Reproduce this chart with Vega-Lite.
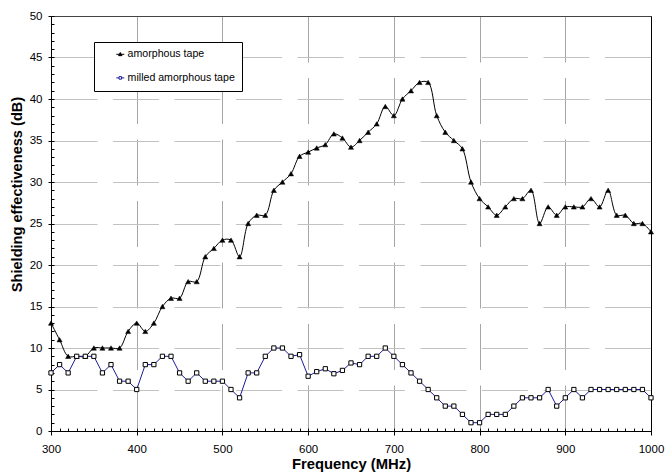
{
  "$schema": "https://vega.github.io/schema/vega-lite/v6.json",
  "width": 600,
  "height": 415,
  "autosize": "none",
  "padding": {"left": 51, "top": 16, "right": 15, "bottom": 42},
  "background": "white",
  "config": {
    "view": {"stroke": "black", "strokeWidth": 1},
    "font": "Liberation Sans"
  },
  "data": {"values": [
    {"freq":300,"db":13,"series":"amorphous tape"},{"freq":310,"db":11,"series":"amorphous tape"},{"freq":320,"db":9,"series":"amorphous tape"},{"freq":330,"db":9,"series":"amorphous tape"},{"freq":340,"db":9,"series":"amorphous tape"},{"freq":350,"db":10,"series":"amorphous tape"},{"freq":360,"db":10,"series":"amorphous tape"},{"freq":370,"db":10,"series":"amorphous tape"},{"freq":380,"db":10,"series":"amorphous tape"},{"freq":390,"db":12,"series":"amorphous tape"},{"freq":400,"db":13,"series":"amorphous tape"},{"freq":410,"db":12,"series":"amorphous tape"},{"freq":420,"db":13,"series":"amorphous tape"},{"freq":430,"db":15,"series":"amorphous tape"},{"freq":440,"db":16,"series":"amorphous tape"},{"freq":450,"db":16,"series":"amorphous tape"},{"freq":460,"db":18,"series":"amorphous tape"},{"freq":470,"db":18,"series":"amorphous tape"},{"freq":480,"db":21,"series":"amorphous tape"},{"freq":490,"db":22,"series":"amorphous tape"},{"freq":500,"db":23,"series":"amorphous tape"},{"freq":510,"db":23,"series":"amorphous tape"},{"freq":520,"db":21,"series":"amorphous tape"},{"freq":530,"db":25,"series":"amorphous tape"},{"freq":540,"db":26,"series":"amorphous tape"},{"freq":550,"db":26,"series":"amorphous tape"},{"freq":560,"db":29,"series":"amorphous tape"},{"freq":570,"db":30,"series":"amorphous tape"},{"freq":580,"db":31,"series":"amorphous tape"},{"freq":590,"db":33.1,"series":"amorphous tape"},{"freq":600,"db":33.6,"series":"amorphous tape"},{"freq":610,"db":34.1,"series":"amorphous tape"},{"freq":620,"db":34.5,"series":"amorphous tape"},{"freq":630,"db":35.8,"series":"amorphous tape"},{"freq":640,"db":35.3,"series":"amorphous tape"},{"freq":650,"db":34.2,"series":"amorphous tape"},{"freq":660,"db":35,"series":"amorphous tape"},{"freq":670,"db":36,"series":"amorphous tape"},{"freq":680,"db":37,"series":"amorphous tape"},{"freq":690,"db":39.1,"series":"amorphous tape"},{"freq":700,"db":38,"series":"amorphous tape"},{"freq":710,"db":40,"series":"amorphous tape"},{"freq":720,"db":41,"series":"amorphous tape"},{"freq":730,"db":42,"series":"amorphous tape"},{"freq":740,"db":42,"series":"amorphous tape"},{"freq":750,"db":38,"series":"amorphous tape"},{"freq":760,"db":36,"series":"amorphous tape"},{"freq":770,"db":35,"series":"amorphous tape"},{"freq":780,"db":34,"series":"amorphous tape"},{"freq":790,"db":30,"series":"amorphous tape"},{"freq":800,"db":28,"series":"amorphous tape"},{"freq":810,"db":27,"series":"amorphous tape"},{"freq":820,"db":26,"series":"amorphous tape"},{"freq":830,"db":27,"series":"amorphous tape"},{"freq":840,"db":28,"series":"amorphous tape"},{"freq":850,"db":28,"series":"amorphous tape"},{"freq":860,"db":29,"series":"amorphous tape"},{"freq":870,"db":25,"series":"amorphous tape"},{"freq":880,"db":27,"series":"amorphous tape"},{"freq":890,"db":26,"series":"amorphous tape"},{"freq":900,"db":27,"series":"amorphous tape"},{"freq":910,"db":27,"series":"amorphous tape"},{"freq":920,"db":27,"series":"amorphous tape"},{"freq":930,"db":28,"series":"amorphous tape"},{"freq":940,"db":27,"series":"amorphous tape"},{"freq":950,"db":29,"series":"amorphous tape"},{"freq":960,"db":26,"series":"amorphous tape"},{"freq":970,"db":26,"series":"amorphous tape"},{"freq":980,"db":25,"series":"amorphous tape"},{"freq":990,"db":25,"series":"amorphous tape"},{"freq":1000,"db":24,"series":"amorphous tape"},
    {"freq":300,"db":7,"series":"milled amorphous tape"},{"freq":310,"db":8,"series":"milled amorphous tape"},{"freq":320,"db":7,"series":"milled amorphous tape"},{"freq":330,"db":9,"series":"milled amorphous tape"},{"freq":340,"db":9,"series":"milled amorphous tape"},{"freq":350,"db":9,"series":"milled amorphous tape"},{"freq":360,"db":7,"series":"milled amorphous tape"},{"freq":370,"db":8,"series":"milled amorphous tape"},{"freq":380,"db":6,"series":"milled amorphous tape"},{"freq":390,"db":6,"series":"milled amorphous tape"},{"freq":400,"db":5,"series":"milled amorphous tape"},{"freq":410,"db":8,"series":"milled amorphous tape"},{"freq":420,"db":8,"series":"milled amorphous tape"},{"freq":430,"db":9,"series":"milled amorphous tape"},{"freq":440,"db":9,"series":"milled amorphous tape"},{"freq":450,"db":7,"series":"milled amorphous tape"},{"freq":460,"db":6,"series":"milled amorphous tape"},{"freq":470,"db":7,"series":"milled amorphous tape"},{"freq":480,"db":6,"series":"milled amorphous tape"},{"freq":490,"db":6,"series":"milled amorphous tape"},{"freq":500,"db":6,"series":"milled amorphous tape"},{"freq":510,"db":5,"series":"milled amorphous tape"},{"freq":520,"db":4,"series":"milled amorphous tape"},{"freq":530,"db":7,"series":"milled amorphous tape"},{"freq":540,"db":7,"series":"milled amorphous tape"},{"freq":550,"db":9,"series":"milled amorphous tape"},{"freq":560,"db":10,"series":"milled amorphous tape"},{"freq":570,"db":10,"series":"milled amorphous tape"},{"freq":580,"db":9,"series":"milled amorphous tape"},{"freq":590,"db":9.2,"series":"milled amorphous tape"},{"freq":600,"db":6.6,"series":"milled amorphous tape"},{"freq":610,"db":7.15,"series":"milled amorphous tape"},{"freq":620,"db":7.5,"series":"milled amorphous tape"},{"freq":630,"db":6.9,"series":"milled amorphous tape"},{"freq":640,"db":7.3,"series":"milled amorphous tape"},{"freq":650,"db":8.2,"series":"milled amorphous tape"},{"freq":660,"db":8,"series":"milled amorphous tape"},{"freq":670,"db":9,"series":"milled amorphous tape"},{"freq":680,"db":9,"series":"milled amorphous tape"},{"freq":690,"db":10,"series":"milled amorphous tape"},{"freq":700,"db":9,"series":"milled amorphous tape"},{"freq":710,"db":8,"series":"milled amorphous tape"},{"freq":720,"db":7,"series":"milled amorphous tape"},{"freq":730,"db":6,"series":"milled amorphous tape"},{"freq":740,"db":5,"series":"milled amorphous tape"},{"freq":750,"db":4,"series":"milled amorphous tape"},{"freq":760,"db":3,"series":"milled amorphous tape"},{"freq":770,"db":3,"series":"milled amorphous tape"},{"freq":780,"db":2,"series":"milled amorphous tape"},{"freq":790,"db":1,"series":"milled amorphous tape"},{"freq":800,"db":1,"series":"milled amorphous tape"},{"freq":810,"db":2,"series":"milled amorphous tape"},{"freq":820,"db":2,"series":"milled amorphous tape"},{"freq":830,"db":2,"series":"milled amorphous tape"},{"freq":840,"db":3,"series":"milled amorphous tape"},{"freq":850,"db":4,"series":"milled amorphous tape"},{"freq":860,"db":4,"series":"milled amorphous tape"},{"freq":870,"db":4,"series":"milled amorphous tape"},{"freq":880,"db":5,"series":"milled amorphous tape"},{"freq":890,"db":3,"series":"milled amorphous tape"},{"freq":900,"db":4,"series":"milled amorphous tape"},{"freq":910,"db":5,"series":"milled amorphous tape"},{"freq":920,"db":4,"series":"milled amorphous tape"},{"freq":930,"db":5,"series":"milled amorphous tape"},{"freq":940,"db":5,"series":"milled amorphous tape"},{"freq":950,"db":5,"series":"milled amorphous tape"},{"freq":960,"db":5,"series":"milled amorphous tape"},{"freq":970,"db":5,"series":"milled amorphous tape"},{"freq":980,"db":5,"series":"milled amorphous tape"},{"freq":990,"db":5,"series":"milled amorphous tape"},{"freq":1000,"db":4,"series":"milled amorphous tape"}
  ]},
  "layer": [
    {
      "mark": {"type": "point", "opacity": 0},
      "encoding": {
        "x": {"field": "freq", "type": "quantitative", "scale": {"domain": [300, 1000], "nice": false, "zero": false},
          "axis": {"orient": "bottom", "values": [300,310,320,330,340,350,360,370,380,390,400,410,420,430,440,450,460,470,480,490,500,510,520,530,540,550,560,570,580,590,600,610,620,630,640,650,660,670,680,690,700,710,720,730,740,750,760,770,780,790,800,810,820,830,840,850,860,870,880,890,900,910,920,930,940,950,960,970,980,990,1000],
            "labels": false, "domain": false, "grid": false, "ticks": true, "tickSize": -3, "tickColor": "black", "title": null}},
        "y": {"field": "db", "type": "quantitative", "scale": {"domain": [0, 50], "nice": false},
          "axis": {"orient": "left", "values": [0,1,2,3,4,5,6,7,8,9,10,11,12,13,14,15,16,17,18,19,20,21,22,23,24,25,26,27,28,29,30,31,32,33,34,35,36,37,38,39,40,41,42,43,44,45,46,47,48,49,50],
            "labels": false, "domain": false, "grid": false, "ticks": true, "tickSize": -3, "tickColor": "black", "title": null}}
      }
    },
    {
      "transform": [{"filter": "datum.series === 'amorphous tape'"}],
      "mark": {"type": "line", "interpolate": "catmull-rom", "stroke": "black", "strokeWidth": 1},
      "encoding": {
        "x": {"field": "freq", "type": "quantitative",
          "axis": {"orient": "bottom", "values": [300,400,500,600,700,800,900,1000], "format": "d", "labelFlush": false, "title": "Frequency (MHz)",
            "titleFont": "Liberation Sans", "titleFontSize": 14.8, "titleFontWeight": "bold", "titleColor": "black", "titlePadding": 2,
            "labelFont": "Liberation Sans", "labelFontSize": 11.5, "labelColor": "black", "labelPadding": 8,
            "tickSize": 4, "tickColor": "black", "domainColor": "black",
            "grid": true, "gridWidth": 1,
            "gridColor": {"condition": {"test": "datum.value === 1000", "value": "black"}, "value": "#a6a6a6"},
            "gridDash": {"condition": {"test": "datum.value === 1000", "value": []}, "value": [46, 15.5]}}},
        "y": {"field": "db", "type": "quantitative",
          "axis": {"orient": "left", "values": [0,5,10,15,20,25,30,35,40,45,50], "title": "Shielding effectiveness (dB)",
            "titleFont": "Liberation Sans", "titleFontSize": 14.6, "titleFontWeight": "bold", "titleColor": "black", "titlePadding": 5, "titleY": 178,
            "labelFont": "Liberation Sans", "labelFontSize": 11.5, "labelColor": "black", "labelPadding": 6,
            "tickSize": 3, "tickColor": "black", "domainColor": "black",
            "grid": true, "gridWidth": 1,
            "gridColor": {"condition": {"test": "datum.value === 50", "value": "#444444"}, "value": "#c2c2c2"},
            "gridDash": {"condition": {"test": "datum.value === 50", "value": []}, "value": [46, 15.5]}}}
      }
    },
    {
      "transform": [{"filter": "datum.series === 'milled amorphous tape'"}],
      "mark": {"type": "line", "interpolate": "linear", "stroke": "#1c1c9c", "strokeWidth": 1},
      "encoding": {
        "x": {"field": "freq", "type": "quantitative", "axis": null},
        "y": {"field": "db", "type": "quantitative", "axis": null}
      }
    },
    {
      "transform": [{"filter": "datum.series === 'amorphous tape'"}],
      "mark": {"type": "point", "shape": "triangle-up", "filled": true, "fill": "black", "stroke": "black", "strokeWidth": 0.5, "size": 26, "opacity": 1},
      "encoding": {
        "x": {"field": "freq", "type": "quantitative", "axis": null},
        "y": {"field": "db", "type": "quantitative", "axis": null}
      }
    },
    {
      "transform": [{"filter": "datum.series === 'milled amorphous tape'"}],
      "mark": {"type": "point", "shape": "square", "filled": true, "fill": "white", "stroke": "black", "strokeWidth": 1, "size": 18, "opacity": 1},
      "encoding": {
        "x": {"field": "freq", "type": "quantitative", "axis": null},
        "y": {"field": "db", "type": "quantitative", "axis": null}
      }
    },
    {
      "mark": {"type": "point", "opacity": 0, "filled": true},
      "encoding": {
        "x": {"field": "freq", "type": "quantitative", "axis": null},
        "y": {"field": "db", "type": "quantitative", "axis": null},
        "shape": {"field": "series", "type": "nominal",
          "scale": {"domain": ["amorphous tape", "milled amorphous tape"],
            "range": ["M-1.333,0H1.333M0,-0.58L0.56,0.45L-0.56,0.45Z", "M-1.333,0H-0.42M0.42,0H1.333M-0.42,-0.42H0.42V0.42H-0.42Z"]},
          "legend": {"orient": "none", "legendX": 43, "legendY": 26, "title": null,
            "strokeColor": "black", "fillColor": "white", "padding": 7,
            "symbolSize": 36, "symbolStrokeWidth": 1, "symbolOpacity": 1, "symbolOffset": 14,
            "labelFont": "Liberation Sans", "labelFontSize": 10.6, "labelColor": "black", "labelOffset": 2,
            "rowPadding": 12.6}},
        "fill": {"field": "series", "type": "nominal",
          "scale": {"domain": ["amorphous tape", "milled amorphous tape"], "range": ["black", "white"]}},
        "stroke": {"field": "series", "type": "nominal",
          "scale": {"domain": ["amorphous tape", "milled amorphous tape"], "range": ["black", "#1c1c9c"]}}
      }
    }
  ],
  "resolve": {"axis": {"x": "independent", "y": "independent"}}
}
